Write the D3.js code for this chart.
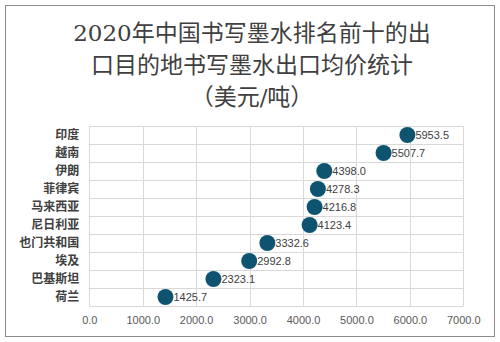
<!DOCTYPE html>
<html>
<head>
<meta charset="utf-8">
<script src="https://cdn.jsdelivr.net/npm/d3@7"></script>
<style>
  html, body { margin: 0; padding: 0; background: #fff; }
  svg { display: block; }
</style>
</head>
<body>
<svg id="chart" width="500" height="342"></svg>
<script>
// Top-ten destinations for Chinese writing ink exports, 2020, average price (USD/ton)
const countries = ["印度", "越南", "伊朗", "菲律宾", "马来西亚", "尼日利亚", "也门共和国", "埃及", "巴基斯坦", "荷兰"];
const prices = [5953.5, 5507.7, 4398.0, 4278.3, 4216.8, 4123.4, 3332.6, 2992.8, 2323.1, 1425.7];
const xTicks = [0, 1000, 2000, 3000, 4000, 5000, 6000, 7000];
const titleLines = ["2020年中国书写墨水排名前十的出", "口目的地书写墨水出口均价统计", "（美元/吨）"];

const svg = d3.select("#chart");
const W = 500, H = 342;
const plot = { left: 89.3, right: 463.3, top: 126, bottom: 306 };

// outer frame
svg.append("rect")
  .attr("x", 5.5).attr("y", 5.5)
  .attr("width", 489).attr("height", 331)
  .attr("fill", "#fff").attr("stroke", "#8c8c8c").attr("stroke-width", 1);

// title
svg.append("g").selectAll("text")
  .data(titleLines)
  .join("text")
  .attr("x", W / 2 + 2)
  .attr("y", (d, i) => 41 + i * 32)
  .attr("text-anchor", "middle")
  .attr("font-family", "'DejaVu Serif', 'Noto Sans CJK SC', serif")
  .attr("font-size", 23)
  .attr("fill", "#404040")
  .text(d => d);

const x = d3.scaleLinear().domain([0, 7000]).range([plot.left, plot.right]);
const y = d3.scaleBand().domain(countries).range([plot.top, plot.bottom]);

// grid: vertical lines at each tick
svg.append("g").selectAll("line")
  .data(xTicks)
  .join("line")
  .attr("x1", d => Math.round(x(d)) + 0.5).attr("x2", d => Math.round(x(d)) + 0.5)
  .attr("y1", plot.top).attr("y2", plot.bottom)
  .attr("stroke", "#d9d9d9");

// grid: horizontal lines at band edges
const edges = countries.map(c => y(c)).concat([plot.bottom]);
svg.append("g").selectAll("line")
  .data(edges)
  .join("line")
  .attr("x1", plot.left).attr("x2", plot.right)
  .attr("y1", d => Math.round(d) + 0.5).attr("y2", d => Math.round(d) + 0.5)
  .attr("stroke", "#d9d9d9");

// x axis labels
const xAxis = d3.axisBottom(x)
  .tickValues(xTicks)
  .tickFormat(d3.format(".1f"))
  .tickSize(0)
  .tickPadding(0);
const gx = svg.append("g")
  .attr("transform", `translate(0, ${plot.bottom + 10})`)
  .call(xAxis);
gx.select(".domain").remove();
gx.selectAll("text")
  .attr("font-family", "'Liberation Sans', 'DejaVu Sans', sans-serif")
  .attr("font-size", 11)
  .attr("fill", "#595959");

// y axis labels
const yAxis = d3.axisLeft(y).tickSize(0).tickPadding(10);
const gy = svg.append("g")
  .attr("transform", `translate(${plot.left}, 0)`)
  .call(yAxis);
gy.select(".domain").remove();
gy.selectAll("text")
  .attr("font-family", "'Noto Sans CJK SC', sans-serif")
  .attr("font-size", 12)
  .attr("font-weight", "bold")
  .attr("fill", "#404040");

// dots
const rows = countries.map((c, i) => ({ c, v: prices[i] }));
svg.append("g").selectAll("circle")
  .data(rows)
  .join("circle")
  .attr("cx", d => x(d.v))
  .attr("cy", d => y(d.c) + y.bandwidth() / 2)
  .attr("r", 8)
  .attr("fill", "#0e5470");

// value labels
svg.append("g").selectAll("text")
  .data(rows)
  .join("text")
  .attr("x", d => x(d.v) + 8)
  .attr("y", d => y(d.c) + y.bandwidth() / 2)
  .attr("dy", "0.35em")
  .attr("font-family", "'Liberation Sans', 'DejaVu Sans', sans-serif")
  .attr("font-size", 11)
  .attr("fill", "#404040")
  .text(d => d.v.toFixed(1));
</script>
</body>
</html>
